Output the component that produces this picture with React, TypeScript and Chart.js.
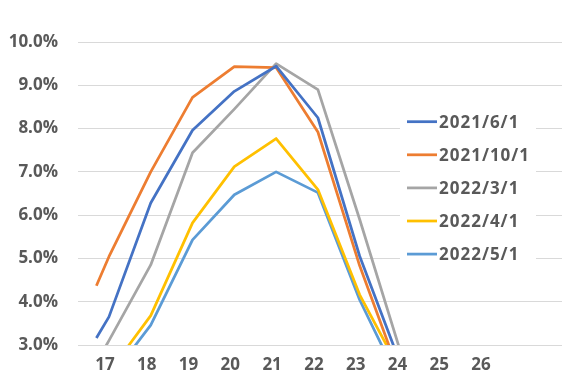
import React, { useEffect, useRef } from "react";
import { Chart, registerables } from "chart.js";

Chart.register(...registerables);

// ---- data ----
const HOURS = [16.7, 17, 18, 19, 20, 21, 22, 23, 24];
const X_TICKS = [17, 18, 19, 20, 21, 22, 23, 24, 25, 26];
const Y_TICKS = [3, 4, 5, 6, 7, 8, 9, 10];
const SERIES_NAMES = ["2021/6/1", "2021/10/1", "2022/3/1", "2022/4/1", "2022/5/1"];
const S_2021_06_01 = [3.16, 3.65, 6.28, 7.96, 8.86, 9.44, 8.25, 5.05, 2.5];
const S_2021_10_01 = [4.37, 5.04, 7.0, 8.72, 9.43, 9.41, 7.92, 4.83, 2.2];
const S_2022_03_01 = [2.6, 3.1, 4.85, 7.44, 8.45, 9.5, 8.9, 5.9, 2.77];
const S_2022_04_01 = [1.9, 2.37, 3.68, 5.82, 7.12, 7.77, 6.59, 4.16, 2.35];
const S_2022_05_01 = [1.8, 2.19, 3.46, 5.43, 6.47, 7.0, 6.52, 4.04, 2.05];

// ---- styles ----
const COLORS = ["#4472C4", "#ED7D31", "#A5A5A5", "#FFC000", "#5B9BD5"];
const TEXT = "#595959";
const FONT = "'Open Sans', 'DejaVu Sans', sans-serif";

const legendPlugin = {
  id: "overlayLegend",
  afterDatasetsDraw(chart: any) {
    const ctx = chart.ctx as CanvasRenderingContext2D;
    ctx.save();
    ctx.fillStyle = "#FFFFFF";
    ctx.fillRect(400, 104, 136, 168);
    chart.data.datasets.forEach((ds: any, i: number) => {
      const y = 121.7 + 33.1 * i;
      ctx.strokeStyle = ds.borderColor;
      ctx.lineWidth = 2.75;
      ctx.beginPath();
      ctx.moveTo(407, y);
      ctx.lineTo(437, y);
      ctx.stroke();
      ctx.fillStyle = TEXT;
      ctx.font = `bold 17px ${FONT}`;
      (ctx as any).letterSpacing = "1px";
      ctx.textBaseline = "middle";
      ctx.textAlign = "left";
      ctx.fillText(ds.label, 439, y + 1);
    });
    ctx.restore();
  },
};

export default function App() {
  const ref = useRef<HTMLCanvasElement>(null);

  useEffect(() => {
    document.body.style.margin = "0";
    const seriesValues = [S_2021_06_01, S_2021_10_01, S_2022_03_01, S_2022_04_01, S_2022_05_01];
    const chart = new Chart(ref.current!, {
      type: "line",
      data: {
        datasets: SERIES_NAMES.map((name, i) => ({
          label: name,
          data: HOURS.map((h, j) => ({ x: h, y: seriesValues[i][j] })),
          borderColor: COLORS[i],
          backgroundColor: COLORS[i],
          borderWidth: 2.75,
          pointRadius: 0,
          tension: 0,
          borderJoinStyle: "round",
          clip: 0,
        })),
      },
      options: {
        animation: false,
        responsive: false,
        devicePixelRatio: 1,
        layout: { padding: { top: 42, left: 0, right: 0, bottom: 0 } },
        plugins: { legend: { display: false }, tooltip: { enabled: false } },
        scales: {
          x: {
            type: "linear",
            min: 16.26,
            max: 27.84,
            grid: { display: false, drawTicks: false },
            border: { display: false },
            ticks: {
              padding: 10,
              labelOffset: -4,
              color: TEXT,
              font: { family: FONT, size: 17, weight: "bold" },
              maxRotation: 0,
              autoSkip: false,
            },
            afterBuildTicks: (s: any) => {
              s.ticks = X_TICKS.map((v) => ({ value: v }));
            },
            afterFit: (s: any) => {
              s.height = 36;
            },
          },
          y: {
            min: 3,
            max: 10,
            grid: { color: "#D9D9D9", lineWidth: 1, drawTicks: false },
            border: { display: false },
            ticks: {
              padding: 20,
              color: TEXT,
              font: { family: FONT, size: 17, weight: "bold" },
              callback: (v: any) => Number(v).toFixed(1) + "%",
            },
            afterBuildTicks: (s: any) => {
              s.ticks = Y_TICKS.map((v) => ({ value: v }));
            },
            afterFit: (s: any) => {
              s.width = 78;
            },
          },
        },
      } as any,
      plugins: [legendPlugin],
    });
    return () => chart.destroy();
  }, []);

  return <canvas ref={ref} width={562} height={381} style={{ display: "block" }} />;
}
